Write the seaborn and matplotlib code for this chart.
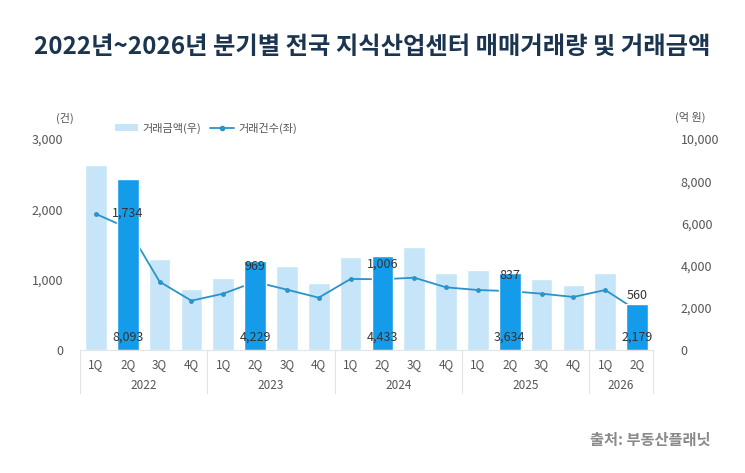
import numpy as np
import pandas as pd
import matplotlib
matplotlib.use('Agg')
import matplotlib.pyplot as plt
import matplotlib.transforms as mtransforms
from matplotlib.patches import Patch
from matplotlib.lines import Line2D
import seaborn as sns

# dati
years = ['2022', '2023', '2024', '2025', '2026']
quarters_per_year = [4, 4, 4, 4, 2]
quarters = ['1Q', '2Q', '3Q', '4Q'] * 4 + ['1Q', '2Q']
amount = [8770, 8093, 4310, 2890, 3410, 4229, 3980, 3175, 4410,
          4433, 4900, 3630, 3790, 3634, 3365, 3080, 3665, 2179]  # 억 원
count = [1934, 1734, 971, 701, 801, 969, 858, 744, 1010,
         1006, 1028, 891, 853, 837, 801, 754, 853, 560]  # 건

light_c = '#c6e5f8'
dark_c = '#149cea'
line_c = '#2b93c9'
text_c = '#555555'

year_col = [y for y, n in zip(years, quarters_per_year) for _ in range(n)]
df = pd.DataFrame({'year': year_col, 'quarter': quarters,
                   'amount': amount, 'count': count})
df['label'] = df['year'] + '-' + df['quarter']
df['idx'] = np.arange(len(df))
order = list(df['label'])
hl = df[df['quarter'] == '2Q']

sns.set_theme(style='white')
plt.rcParams['font.family'] = ['Noto Sans CJK KR', 'DejaVu Sans']

fig = plt.figure(figsize=(7.45, 4.73), dpi=100)
ax = fig.add_axes([80 / 745, 1 - 350 / 473, 573 / 745, 211 / 473])
ax_bar = ax.twinx()
ax_top = ax.twinx()
ax_bar.set_zorder(1)
ax.set_zorder(2)
ax_top.set_zorder(3)
ax.patch.set_visible(False)
ax_top.patch.set_visible(False)

# barre chiare (tutti i trimestri)
sns.barplot(data=df, x='label', y='amount', order=order, color=light_c,
            saturation=1, width=0.68, errorbar=None, ax=ax_bar)
# barre scure (2Q) sopra la linea
sns.barplot(data=hl, x='label', y='amount', order=order, color=dark_c,
            saturation=1, width=0.68, errorbar=None, ax=ax_top)

# linea numero transazioni
sns.lineplot(data=df, x='idx', y='count', ax=ax, color=line_c, linewidth=1.3,
             marker='o', markersize=3.5, markeredgewidth=0)

for a in (ax, ax_bar, ax_top):
    a.set_xlim(-0.5, len(df) - 0.5)
    a.set_xlabel('')
    a.set_ylabel('')
    for s in a.spines.values():
        s.set_visible(False)
    a.grid(False)

ax.set_ylim(0, 3000)
ax.set_yticks([0, 1000, 2000, 3000])
ax.set_yticklabels([f'{v:,}' for v in [0, 1000, 2000, 3000]])
ax.tick_params(axis='y', length=0, pad=12, labelsize=9, labelcolor=text_c)
ax.set_xticks([])

ax_bar.set_ylim(0, 10000)
ax_bar.set_yticks(range(0, 10001, 2000))
ax_bar.set_yticklabels([f'{v:,}' for v in range(0, 10001, 2000)])
ax_bar.tick_params(axis='y', length=0, pad=20, labelsize=9, labelcolor=text_c)
ax_bar.set_xticks([])

ax_top.set_ylim(0, 10000)
ax_top.set_yticks([])
ax_top.set_xticks([])

# etichette valori
for _, r in hl.iterrows():
    ax_top.annotate(f"{r['count']:,}", xy=(r['idx'], r['count']), xycoords=ax.transData,
                    xytext=(0, 11), textcoords='offset points', ha='center', va='center',
                    fontsize=9, color='#333333')
    ax_top.annotate(f"{r['amount']:,}", xy=(r['idx'], 0), xytext=(0, 9.5),
                    textcoords='offset points', ha='center', va='center',
                    fontsize=9, color='#333333')

# asse x a due livelli
trans = mtransforms.blended_transform_factory(ax.transData, ax.transAxes)
for i, q in enumerate(quarters):
    ax.text(i, -0.071, q, transform=trans, ha='center', va='center',
            fontsize=8.5, color=text_c)
start = 0
bounds = [-0.5]
for y, n in zip(years, quarters_per_year):
    ax.text(start + (n - 1) / 2, -0.166, y, transform=trans, ha='center',
            va='center', fontsize=8.5, color=text_c)
    start += n
    bounds.append(start - 0.5)
for b in bounds:
    ax.plot([b, b], [0, -0.204], transform=trans, color='#e4e4e4',
            linewidth=0.8, clip_on=False)
ax.plot([-0.5, len(df) - 0.5], [0, 0], transform=trans, color='#e4e4e4',
        linewidth=0.8, clip_on=False)

# unità
fig.text(65 / 745, 1 - 118 / 473, '(건)', ha='center', va='center',
         fontsize=8, color=text_c)
fig.text(690 / 745, 1 - 117 / 473, '(억 원)', ha='center', va='center',
         fontsize=8, color=text_c)

# legenda
handles = [Patch(facecolor=light_c, edgecolor='none', label='거래금액(우)'),
           Line2D([], [], color=line_c, linewidth=1.3, marker='o', markersize=3,
                  label='거래건수(좌)')]
fig.legend(handles=handles, loc='center left', bbox_to_anchor=(115 / 745, 1 - 128 / 473),
           ncol=2, frameon=False, fontsize=8, labelcolor=text_c, borderpad=0,
           borderaxespad=0, handlelength=2.1, handletextpad=0.4, columnspacing=0.8)

# titolo e fonte
fig.text(0.5, 1 - 47 / 473, '2022년~2026년 분기별 전국 지식산업센터 매매거래량 및 거래금액',
         ha='center', va='center', fontsize=17.5, fontweight='bold', color='#1b3550')
fig.text(710 / 745, 1 - 440 / 473, '출처: 부동산플래닛', ha='right', va='center',
         fontsize=11, fontweight='bold', color='#8a8a8a')

fig.savefig('out.png', dpi=100)
